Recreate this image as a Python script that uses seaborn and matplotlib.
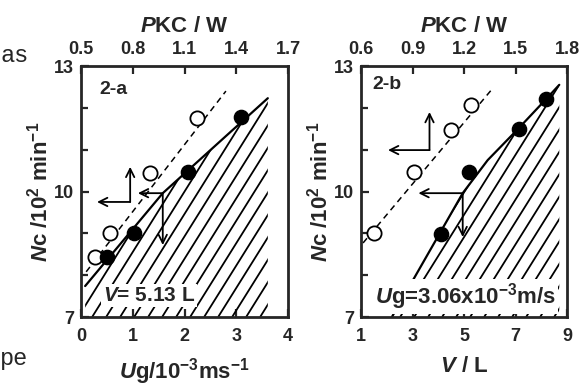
import numpy as np
import pandas as pd
import matplotlib
matplotlib.use("Agg")
import matplotlib.pyplot as plt
from matplotlib.patches import Polygon
from matplotlib.collections import LineCollection
import seaborn as sns

# ---------------- data ----------------
# panel 2-a : V = 5.13 L, x = Ug (1e-3 m/s), top axis P_KC (W)
a_open_x = [0.27, 0.56, 1.33, 2.24]
a_open_y = [8.43, 9.00, 10.44, 11.76]
a_fill_x = [0.50, 1.03, 2.07, 3.09]
a_fill_y = [8.43, 9.00, 10.47, 11.78]
a_dash_x = [0.10, 2.80]
a_dash_y = [8.08, 12.40]
a_bound_x = [0.08, 1.58, 3.61]
a_bound_y = [7.74, 9.96, 12.23]
a_hatch_right = 3.61
a_xticks = [0, 1, 2, 3, 4]
a_top_ticks = [0.5, 0.8, 1.1, 1.4, 1.7]
a_top_labels = ["0.5", "0.8", "1.1", "1.4", "1.7"]
# arrows: corner x, corner y, horizontal tip x, vertical tip y
a_arrow_cx = [0.95, 1.58]
a_arrow_cy = [9.75, 9.96]
a_arrow_hx = [0.31, 1.10]
a_arrow_vy = [10.59, 8.72]

# panel 2-b : Ug = 3.06e-3 m/s, x = V (L), top axis P_KC (W)
b_open_x = [1.51, 3.07, 4.48, 5.26]
b_open_y = [9.00, 10.47, 11.47, 12.07]
b_fill_x = [4.09, 5.18, 7.13, 8.19]
b_fill_y = [8.98, 10.47, 11.49, 12.21]
b_dash_x = [1.08, 6.12]
b_dash_y = [8.77, 12.47]
b_bound_x = [2.20, 4.95, 5.92, 7.09, 8.19, 8.70]
b_bound_y = [7.00, 9.96, 10.75, 11.49, 12.21, 12.55]
b_hatch_right = 8.70
b_xticks = [1, 3, 5, 7, 9]
b_top_ticks = [0.6, 0.9, 1.2, 1.5, 1.8]
b_top_labels = ["0.6", "0.9", "1.2", "1.5", "1.8"]
b_arrow_cx = [3.66, 4.95]
b_arrow_cy = [10.99, 9.96]
b_arrow_hx = [2.05, 3.23]
b_arrow_vy = [11.90, 8.91]

y_ticks = [7, 10, 13]
y_minor = [8, 9, 11, 12]

# ---------------- style ----------------
sns.set_style("ticks")
plt.rcParams["font.family"] = ["Liberation Sans", "DejaVu Sans"]
plt.rcParams["font.weight"] = "bold"
plt.rcParams["axes.labelweight"] = "bold"
plt.rcParams["mathtext.fontset"] = "custom"
plt.rcParams["mathtext.rm"] = "Liberation Sans:bold"
plt.rcParams["mathtext.it"] = "Liberation Sans:italic:bold"
plt.rcParams["mathtext.bf"] = "Liberation Sans:bold"

fig = plt.figure(figsize=(5.85, 3.86), dpi=100)
W, H = 585, 386

def make_axes(l, r):
    return fig.add_axes([l / W, (H - 317) / H, (r - l) / W, (317 - 66) / H])

ax_a = make_axes(81, 288)
ax_b = make_axes(361, 567)

def hatch(ax, px_w, px_h, poly, slope=1.6, spacing=14.0):
    patch = Polygon(poly, closed=True, transform=ax.transData, fill=False, lw=0)
    ax.add_patch(patch)
    run = px_h / slope
    segs = []
    for x0 in np.arange(-run, px_w + spacing, spacing):
        segs.append([(x0 / px_w, 0.0), ((x0 + run) / px_w, 1.0)])
    lc = LineCollection(segs, colors="black", linewidths=1.3,
                        transform=ax.transAxes, zorder=1)
    ax.add_collection(lc)
    lc.set_clip_path(patch)

def panel(ax, xlim, xticks, open_x, open_y, fill_x, fill_y, dash_x, dash_y,
          bound_x, bound_y, hatch_right, arrows, top_fn, top_ticks, top_labels,
          tag, tag_xy, note, note_xy, note_size, xlabel, px_w):
    ax.set_xlim(*xlim)
    ax.set_ylim(7, 13)
    # hatched region
    poly = [(bound_x[0], 7.0)] + list(zip(bound_x, bound_y)) + [(hatch_right, 7.0)]
    hatch(ax, px_w, 251, poly)
    # lines
    sns.lineplot(x=dash_x, y=dash_y, ax=ax, color="black", lw=1.1,
                 linestyle=(0, (4, 3)), sort=False, zorder=2)
    sns.lineplot(x=bound_x, y=bound_y, ax=ax, color="black", lw=1.6,
                 sort=False, zorder=2)
    # points
    sns.scatterplot(x=open_x, y=open_y, ax=ax, s=105, color="white",
                    edgecolor="black", linewidth=1.3, zorder=4)
    sns.scatterplot(x=fill_x, y=fill_y, ax=ax, s=105, color="black",
                    edgecolor="black", linewidth=1.0, zorder=4)
    # arrows
    cx, cy, hx, vy = arrows
    for i in range(len(cx)):
        ap = dict(arrowstyle="->", color="black", lw=1.3, mutation_scale=15,
                  shrinkA=0, shrinkB=0)
        ax.annotate("", xy=(hx[i], cy[i]), xytext=(cx[i], cy[i]), arrowprops=ap, zorder=5)
        ax.annotate("", xy=(cx[i], vy[i]), xytext=(cx[i], cy[i]), arrowprops=ap, zorder=5)
    # texts
    ax.text(tag_xy[0], tag_xy[1], tag, fontsize=14, fontweight="bold",
            ha="left", va="center", zorder=6)
    ax.text(note_xy[0], note_xy[1], note, fontsize=note_size, ha="left", va="center",
            zorder=6, bbox=dict(facecolor="white", edgecolor="none", pad=1.5))
    # axes
    ax.set_xticks(xticks)
    ax.set_xticklabels([str(t) for t in xticks], fontweight="bold")
    ax.set_yticks(y_ticks)
    ax.set_yticks(y_minor, minor=True)
    ax.set_yticklabels([str(t) for t in y_ticks], fontweight="bold")
    ax.tick_params(axis="both", which="both", direction="in", width=1.6,
                   labelsize=13)
    ax.tick_params(axis="x", which="major", length=6, pad=8)
    ax.tick_params(axis="y", which="major", length=6, pad=5)
    ax.tick_params(axis="y", which="minor", length=5)
    for sp in ax.spines.values():
        sp.set_visible(True)
        sp.set_linewidth(2.0)
    ax.set_xlabel(xlabel, fontsize=16, labelpad=8)
    ax.set_ylabel(r"$\mathit{N}$c /10$^2$ min$^{-1}$", fontsize=16, labelpad=1)
    sec = ax.secondary_xaxis("top", functions=top_fn)
    sec.set_xticks(top_ticks)
    sec.set_xticklabels(top_labels, fontweight="bold")
    sec.tick_params(direction="in", length=6, width=1.6, labelsize=13, pad=6)
    sec.set_xlabel(r"$\mathit{P}$KC / W", fontsize=16, labelpad=6)

panel(ax_a, (0, 4), a_xticks, a_open_x, a_open_y, a_fill_x, a_fill_y,
      a_dash_x, a_dash_y, a_bound_x, a_bound_y, a_hatch_right,
      (a_arrow_cx, a_arrow_cy, a_arrow_hx, a_arrow_vy),
      (lambda x: 0.5 + 0.3 * np.asarray(x), lambda p: (np.asarray(p) - 0.5) / 0.3),
      a_top_ticks, a_top_labels, "2-a", (0.35, 12.45),
      r"$\mathit{V}$= 5.13 L", (0.42, 7.52), 15,
      r"$\mathit{U}$g/10$^{-3}$ms$^{-1}$", 207)

panel(ax_b, (1, 9), b_xticks, b_open_x, b_open_y, b_fill_x, b_fill_y,
      b_dash_x, b_dash_y, b_bound_x, b_bound_y, b_hatch_right,
      (b_arrow_cx, b_arrow_cy, b_arrow_hx, b_arrow_vy),
      (lambda v: 0.6 + 0.15 * (np.asarray(v) - 1), lambda p: (np.asarray(p) - 0.6) / 0.15 + 1),
      b_top_ticks, b_top_labels, "2-b", (1.45, 12.55),
      r"$\mathit{U}$g=3.06x10$^{-3}$m/s", (1.55, 7.5), 16,
      r"$\mathit{V}$ / L", 206)

# fragments of surrounding page text
fig.text(0.0, 1 - 55 / H, "as", fontsize=17, family="Liberation Mono",
         fontweight="normal", va="center", ha="left")
fig.text(0.0, 1 - 358 / H, "pe", fontsize=17, family="Liberation Mono",
         fontweight="normal", va="center", ha="left")

fig.savefig("out.png", dpi=100)
